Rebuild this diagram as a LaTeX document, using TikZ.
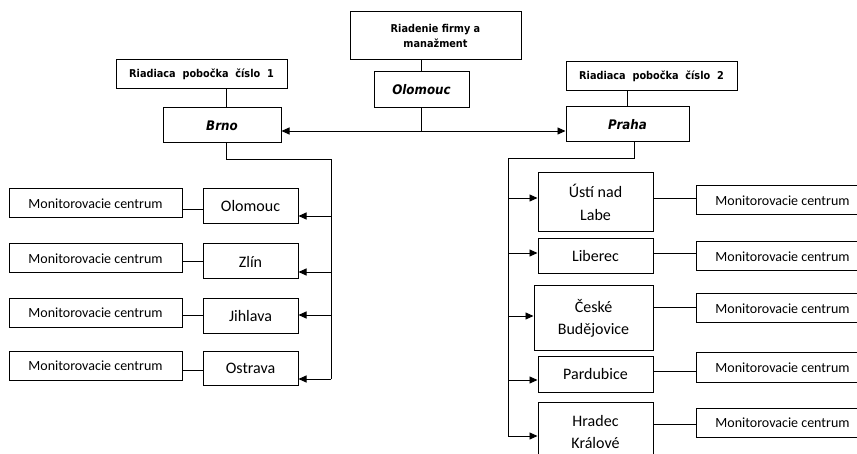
\documentclass[tikz,border=0pt]{standalone}
\usepackage{fontspec}
\setmainfont{Carlito}
\newfontfamily\headfont[FakeStretch=0.9]{DejaVu Sans}
\usetikzlibrary{arrows.meta}

\begin{document}
\begin{tikzpicture}[x=1pt,y=-1pt,
  box/.style={draw, line width=1pt, inner sep=0pt, align=center},
  head/.style={box, font=\headfont\bfseries\fontsize{10.8}{15}\selectfont},
  hub/.style={box, font=\headfont\bfseries\itshape\fontsize{13.2}{16}\selectfont},
  city/.style={box, font=\fontsize{16}{22.5}\selectfont},
  mon/.style={box, minimum width=173pt, minimum height=29pt, font=\fontsize{14}{16}\selectfont},
  link/.style={line width=0.9pt},
  feed/.style={link, -{Triangle[length=8pt,width=7pt]}}]

\useasboundingbox (0,0) rectangle (857,454);

% management and branches
\node[head, minimum width=171pt, minimum height=48pt] (top) at (435.5,36) {Riadenie firmy a\\manažment};
\node[hub, minimum width=95pt, minimum height=36pt] (olo) at (421.5,90) {Olomouc};
\node[head, minimum width=171pt, minimum height=29pt] (r1) at (201.5,74.5) {Riadiaca\ \ pobočka\ \ číslo\ \ 1};
\node[hub, minimum width=118pt, minimum height=35pt] (brno) at (222,125.5) {Brno};
\node[head, minimum width=171pt, minimum height=29pt] (r2) at (651.5,76.5) {Riadiaca\ \ pobočka\ \ číslo\ \ 2};
\node[hub, minimum width=123pt, minimum height=35pt] (praha) at (627.5,124.5) {Praha};

% branch 1 cities
\node[city, minimum width=95pt, minimum height=35pt] (lc1) at (250.5,206.5) {Olomouc};
\node[city, minimum width=95pt, minimum height=35pt] (lc2) at (250.5,261.5) {Zlín};
\node[city, minimum width=95pt, minimum height=35pt] (lc3) at (250.5,316.5) {Jihlava};
\node[city, minimum width=95pt, minimum height=33pt] (lc4) at (250.5,368.5) {Ostrava};
\node[mon] (lm1) at (95.5,203.5) {Monitorovacie centrum};
\node[mon] (lm2) at (95.5,258.5) {Monitorovacie centrum};
\node[mon] (lm3) at (95.5,313) {Monitorovacie centrum};
\node[mon] (lm4) at (95.5,366) {Monitorovacie centrum};

% branch 2 cities
\node[city, minimum width=115pt, minimum height=59pt] (rc1) at (595.5,202.5) {Ústí nad\\Labe};
\node[city, minimum width=115pt, minimum height=35pt] (rc2) at (595.5,256.5) {Liberec};
\node[city, minimum width=119pt, minimum height=65pt] (rc3) at (593.5,318.5) {České\\Budějovice};
\node[city, minimum width=115pt, minimum height=35pt] (rc4) at (595.5,374.5) {Pardubice};
\node[city, minimum width=115pt, minimum height=60pt] (rc5) at (595.5,432) {Hradec\\Králové};
\node[mon] (rm1) at (782.5,200.5) {Monitorovacie centrum};
\node[mon] (rm2) at (782.5,256.5) {Monitorovacie centrum};
\node[mon] (rm3) at (782.5,308.5) {Monitorovacie centrum};
\node[mon] (rm4) at (782.5,367.5) {Monitorovacie centrum};
\node[mon] (rm5) at (782.5,422.5) {Monitorovacie centrum};

% upper links
\coordinate (bx) at (226,0);
\coordinate (px) at (634,0);
\coordinate (hj) at (421.5,131);
\draw[link] (olo.north) -- (olo.north |- top.south);
\draw[link] (r1.south -| bx) -- (brno.north -| bx);
\draw[link] (r2.south -| praha.north) -- (praha.north);
\draw[link] (olo.south) -- (hj);
\draw[feed] (hj) -- (brno.east |- hj);
\draw[feed] (hj) -- (praha.west |- hj);

% branch 1 distribution
\coordinate (lt) at (331,159);
\draw[link] (brno.south -| bx) |- (lt) -- (331,379);
\draw[feed] (331,216) -- (lc1.east |- 0,216);
\draw[feed] (331,272) -- (lc2.east |- 0,272);
\draw[feed] (331,315) -- (lc3.east |- 0,315);
\draw[feed] (331,379) -- (lc4.east |- 0,379);
\draw[link] (lm1.east |- 0,209) -- (lc1.west |- 0,209);
\draw[link] (lm2.east |- 0,261) -- (lc2.west |- 0,261);
\draw[link] (lm3.east |- 0,315) -- (lc3.west |- 0,315);
\draw[link] (lm4.east |- 0,370) -- (lc4.west |- 0,370);

% branch 2 distribution
\coordinate (rt) at (508,158);
\draw[link] (praha.south -| px) |- (rt) -- (508,436);
\draw[feed] (508,198) -- (rc1.west |- 0,198);
\draw[feed] (508,253) -- (rc2.west |- 0,253);
\draw[feed] (508,316) -- (rc3.west |- 0,316);
\draw[feed] (508,380) -- (rc4.west |- 0,380);
\draw[feed] (508,436) -- (rc5.west |- 0,436);
\draw[link] (rc1.east |- 0,198) -- (rm1.west |- 0,198);
\draw[link] (rc2.east |- 0,253) -- (rm2.west |- 0,253);
\draw[link] (rc3.east |- 0,307) -- (rm3.west |- 0,307);
\draw[link] (rc4.east |- 0,371) -- (rm4.west |- 0,371);
\draw[link] (rc5.east |- 0,424) -- (rm5.west |- 0,424);
\end{tikzpicture}
\end{document}
